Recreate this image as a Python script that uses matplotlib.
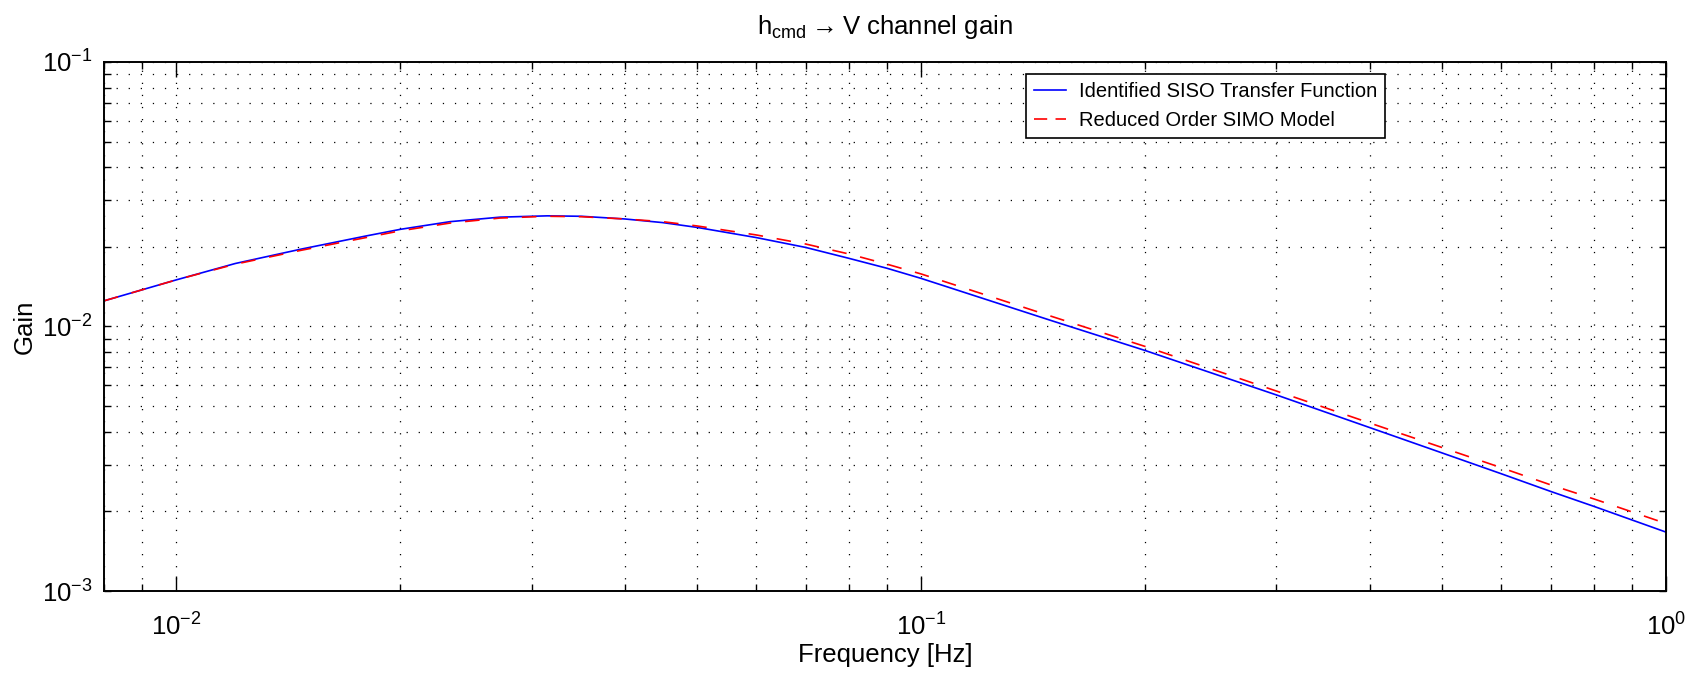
import matplotlib
matplotlib.use("Agg")
import matplotlib.pyplot as plt
from matplotlib.ticker import LogLocator, NullFormatter

# Values
freq_hz = [0.008, 0.01, 0.012, 0.0147, 0.018, 0.02, 0.0233, 0.0272, 0.0315, 0.035,
           0.04, 0.045, 0.05, 0.06, 0.07, 0.08, 0.09, 0.1, 0.15, 0.2, 0.3, 0.4,
           0.5, 0.6, 0.7, 0.8, 1.0]
siso_gain = [0.0125, 0.0150, 0.0173, 0.0196, 0.0220, 0.0233, 0.0249, 0.0259, 0.0262, 0.0261,
             0.0255, 0.0247, 0.0237, 0.0217, 0.0199, 0.0181, 0.0166, 0.0152, 0.0105, 0.00811,
             0.00551, 0.00415, 0.00333, 0.00278, 0.00238, 0.00209, 0.00167]
simo_gain = [0.0125, 0.0150, 0.0172, 0.0194, 0.0217, 0.0230, 0.0246, 0.0257, 0.0261, 0.0260,
             0.0255, 0.0249, 0.0240, 0.0222, 0.0205, 0.0188, 0.0172, 0.0158, 0.0109, 0.0084,
             0.0057, 0.00432, 0.00349, 0.00293, 0.00252, 0.00223, 0.00180]

series_labels = ["Identified SISO Transfer Function", "Reduced Order SIMO Model"]

plt.rcParams['font.family'] = ['Liberation Sans', 'DejaVu Sans']
plt.rcParams['mathtext.default'] = 'regular'
plt.rcParams['lines.scale_dashes'] = False

fig = plt.figure(figsize=(16.91, 6.78), dpi=100)
ax = fig.add_axes([0.0615, 0.1283, 0.9237, 0.7803])

ax.plot(freq_hz, siso_gain, color=(0, 0, 1), lw=1.2, label=series_labels[0])
ax.plot(freq_hz, simo_gain, color=(1, 0, 0), lw=1.2, dashes=(10.5, 10), label=series_labels[1])

ax.set_xscale('log')
ax.set_yscale('log')
ax.set_xlim(0.008, 1.0)
ax.set_ylim(1e-3, 1e-1)

# MATLAB-like ticks and dotted grid
ax.xaxis.set_minor_locator(LogLocator(base=10, subs=range(2, 10)))
ax.yaxis.set_minor_locator(LogLocator(base=10, subs=range(2, 10)))
ax.xaxis.set_minor_formatter(NullFormatter())
ax.yaxis.set_minor_formatter(NullFormatter())
ax.tick_params(which='both', direction='in', top=True, right=True, width=1.0, labelsize=18.5)
ax.tick_params(axis='x', which='major', length=11, pad=16)
ax.tick_params(axis='x', which='minor', length=5)
ax.tick_params(axis='y', which='major', length=5, pad=8)
ax.tick_params(axis='y', which='minor', length=5)
ax.grid(True, which='both', color='black', lw=0.9, linestyle=(0, (0.9, 7.8)))
for sp in ax.spines.values():
    sp.set_linewidth(1.4)

ax.set_title(r'$h_{cmd}\rightarrow$V channel gain', fontsize=18.5, pad=20)
ax.set_xlabel('Frequency [Hz]', fontsize=18.5, labelpad=2)
ax.set_ylabel('Gain', fontsize=18.5, labelpad=4)

leg = ax.legend(loc='upper left', bbox_to_anchor=(0.590, 0.977), fontsize=14.5,
                frameon=True, fancybox=False, framealpha=1, edgecolor='black',
                handlelength=1.6, handletextpad=0.65, borderpad=0.4, labelspacing=0.5,
                borderaxespad=0)
leg.get_frame().set_linewidth(1.2)
# legend sample of the dashed line shows two short dashes like the original
leg.get_lines()[1].set_dashes((9.5, 6))

fig.savefig('out.png', dpi=100)
